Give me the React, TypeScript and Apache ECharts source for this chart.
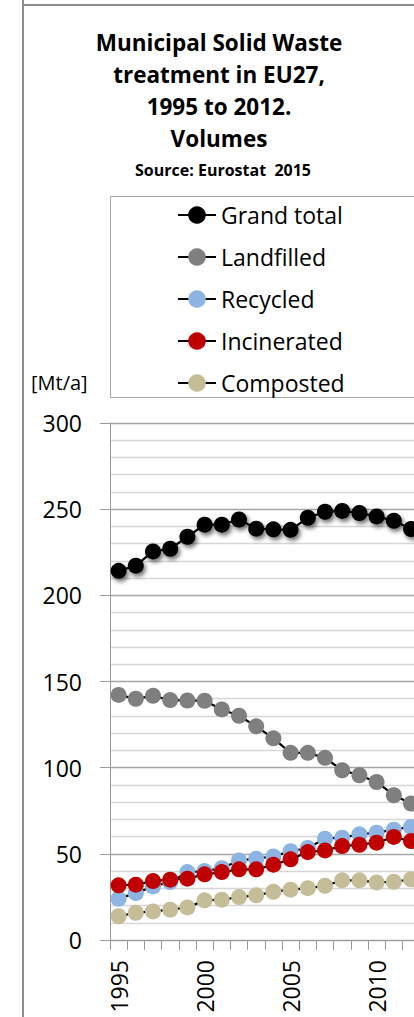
import React, { useEffect, useRef } from "react";
import * as echarts from "echarts";

const years = ["1995","1996","1997","1998","1999","2000","2001","2002","2003","2004","2005","2006","2007","2008","2009","2010","2011","2012"];
const grandTotal = [214.2,217.2,225.5,227,234,241,241,244,238.7,238.3,238,245,248.5,249,247.8,245.8,243.3,238.5];
const landfilled = [142.2,140,141.7,139.2,139,138.8,133.8,130.1,124,117,108.6,108.6,105.7,98.5,95.6,91.7,84,79.2];
const recycled = [24,27.2,31.1,33.6,39.4,40,41.7,46.2,47.2,48.5,51.5,53.4,58.8,59.4,61.3,62.3,64,65.6];
const incinerated = [31.7,32.1,34.2,35,35.6,38.1,39.4,41,41,43.7,46.8,51,52,54.5,55.3,56.5,59.8,57.4];
const composted = [13.8,15.8,16.6,17.6,18.9,23,23.4,24.9,25.9,28,29.2,30.1,31.5,34.6,34.6,33.4,33.8,35.2];

const seriesNames = ["Grand total", "Landfilled", "Recycled", "Incinerated", "Composted"];
const seriesColors = ["#000000", "#7f7f7f", "#8db4e2", "#c00000", "#c4bd97"];
const titleLines = ["Municipal Solid Waste", "treatment in EU27,", "1995 to 2012.", "Volumes"];
const sourceText = "Source: Eurostat  2015";
const unitText = "[Mt/a]";

export default function App() {
  const ref = useRef<HTMLDivElement>(null);
  useEffect(() => {
    if (!ref.current) return;
    const chart = echarts.init(ref.current, null, { renderer: "svg" });
    const data = [grandTotal, landfilled, recycled, incinerated, composted];
    const series = seriesNames.map((name, i) => ({
      name,
      type: "line",
      data: data[i],
      symbol: "circle",
      showAllSymbol: true,
      symbolSize: 16,
      lineStyle: { color: "#000", width: 2.2 },
      itemStyle: i === 0
        ? { color: seriesColors[i], shadowBlur: 4, shadowColor: "rgba(0,0,0,0.55)", shadowOffsetX: 2, shadowOffsetY: 3 }
        : { color: seriesColors[i] },
      emphasis: { disabled: true },
    }));
    const graphic: any[] = [
      { type: "line", shape: { x1: 23, y1: 0, x2: 23, y2: 1017 }, style: { stroke: "#8c8c8c", lineWidth: 2 } },
      { type: "line", shape: { x1: 23, y1: 5, x2: 440, y2: 5 }, style: { stroke: "#8c8c8c", lineWidth: 2 } },
      { type: "rect", shape: { x: 110.5, y: 196.5, width: 400, height: 201 }, style: { fill: "none", stroke: "#a6a6a6", lineWidth: 1 }, z: -1 },
      ...titleLines.map((t, i) => ({
        type: "text", x: 219, y: 42 + i * 32,
        style: { text: t, font: "bold 22.5px 'Open Sans'", fill: "#000", textAlign: "center", textVerticalAlign: "middle" },
      })),
      { type: "text", x: 223, y: 170, style: { text: sourceText, font: "bold 16px 'Open Sans'", fill: "#000", textAlign: "center", textVerticalAlign: "middle" } },
      { type: "text", x: 31, y: 382, style: { text: unitText, font: "20px 'Open Sans'", fill: "#000", textAlign: "left", textVerticalAlign: "middle" } },
    ];
    chart.setOption({
      animation: false,
      graphic,
      legend: {
        orient: "vertical",
        left: 177,
        top: 201,
        padding: 0,
        itemWidth: 38,
        itemHeight: 22,
        itemGap: 14,
        textStyle: { fontFamily: "Open Sans", fontSize: 23, color: "#000", lineHeight: 28 },
        data: seriesNames,
        selectedMode: false,
      },
      grid: { left: 110, top: 423, right: 20.4, bottom: 77 },
      xAxis: {
        type: "category",
        data: years,
        boundaryGap: true,
        axisLine: { lineStyle: { color: "#9a9a9a", width: 1 } },
        axisTick: { show: true, interval: 0, length: 10, lineStyle: { color: "#9a9a9a" } },
        axisLabel: { interval: 4, rotate: 90, margin: 20, fontFamily: "Open Sans", fontSize: 23, color: "#000" },
        splitLine: { show: false },
      },
      yAxis: {
        type: "value",
        min: 0,
        max: 300,
        interval: 50,
        axisLine: { show: true, lineStyle: { color: "#9a9a9a", width: 1 } },
        axisTick: { show: true, length: 10, lineStyle: { color: "#9a9a9a" } },
        axisLabel: { margin: 28, fontFamily: "Open Sans", fontSize: 23, color: "#000" },
        splitLine: { show: true, lineStyle: { color: "#a6a6a6", width: 1.3 } },
        minorTick: { show: false, splitNumber: 5 },
        minorSplitLine: { show: true, lineStyle: { color: "#d6d6d6", width: 1.3 } },
      },
      series,
    });
    return () => chart.dispose();
  }, []);
  return (
    <div style={{ position: "absolute", left: 0, top: 0, width: 414, height: 1017, overflow: "hidden", background: "#fff" }}>
      <div ref={ref} style={{ width: 440, height: 1017 }} />
    </div>
  );
}
